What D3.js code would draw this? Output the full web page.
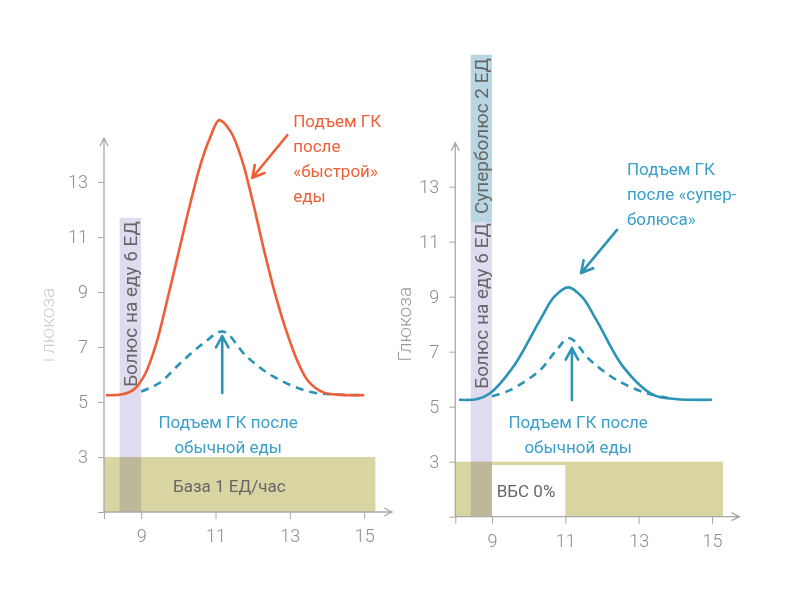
<!DOCTYPE html>
<html><head><meta charset="utf-8">
<script src="https://cdn.jsdelivr.net/npm/d3@7"></script>
<style>
body{margin:0;background:#fff;}
svg text{font-family:Roboto,"Open Sans",sans-serif;}
</style></head><body>
<svg id="c" width="800" height="600"></svg>
<script>
// ---- data ----
const xTicks = [9, 11, 13, 15];
const yTicks = [3, 5, 7, 9, 11, 13];
// left panel: glucose after "fast" food (solid red)
const fastX = [8.05, 8.5, 8.8, 9.1, 9.4, 9.7, 10.0, 10.3, 10.6, 10.85, 11.1, 11.4, 11.7, 12.0, 12.3, 12.6, 12.9, 13.2, 13.5, 13.9, 14.4, 15.0];
const fastY = [5.25, 5.28, 5.45, 6.0, 7.1, 8.7, 10.4, 12.1, 13.65, 14.6, 15.25, 14.85, 13.85, 12.3, 10.55, 8.95, 7.6, 6.5, 5.75, 5.35, 5.26, 5.25];
// left panel: glucose after normal food (dashed)
const normLX = [9.0, 9.5, 10.05, 10.67, 11.2, 11.84, 12.56, 13.54, 14.3, 15.0];
const normLY = [5.38, 5.7, 6.41, 7.13, 7.56, 6.65, 5.92, 5.37, 5.27, 5.25];
// right panel: glucose after super-bolus (solid blue)
const superX = [8.1, 8.6, 8.95, 9.58, 10.31, 10.7, 11.08, 11.45, 11.85, 12.58, 13.4, 14.0, 15.0];
const superY = [5.25, 5.28, 5.49, 6.45, 8.15, 9.0, 9.34, 9.0, 8.15, 6.45, 5.43, 5.28, 5.25];
// right panel: glucose after normal food (dashed)
const normRX = [9.0, 9.49, 10.31, 10.76, 11.11, 11.67, 12.4, 13.22, 13.9];
const normRY = [5.38, 5.6, 6.33, 7.06, 7.49, 6.7, 5.97, 5.49, 5.3];
// bars: [x0, x1, y0, y1] in data units
const baseBar = [8, 15.3, 1, 3];
const bolusBar = [8.42, 9.0, 1, 11.7];
const superBar = [8.42, 9.0, 11.7, 17.8];
const vbsBox = [9.0, 11.0, 1, 2.88];

const svg = d3.select("#c");
const RED = "#ef5f37", BLUE = "#2a93b6", BLUE_T = "#3aa0c9";
const OLIVE = "#d8d5a3", PURPLE = "#d4d1eb", SUPER = "#b9d7e3";
const AX = "#a8a8a8", TICKC = "#8e8e8e", DARK = "#666";

function panel(cfg) {
  const g = svg.append("g");
  const x = d3.scaleLinear().domain([8, 15]).range(cfg.xr);
  const y = d3.scaleLinear().domain([1, 5]).range(cfg.yr);
  const rect = (b, fill) => g.append("rect")
    .attr("x", x(b[0])).attr("width", x(b[1]) - x(b[0]))
    .attr("y", y(b[3])).attr("height", y(b[2]) - y(b[3])).attr("fill", fill);
  rect(baseBar, OLIVE);
  if (cfg.vbs) rect(vbsBox, "#fff");
  rect(bolusBar, PURPLE).style("mix-blend-mode", "multiply").attr("opacity", 0.75);
  if (cfg.superbar) rect(superBar, SUPER);

  // axes
  const xa = g.append("g").attr("transform", `translate(0,${y(1)})`)
    .call(d3.axisBottom(x).tickValues([8].concat(xTicks)).tickSize(7).tickPadding(8).tickFormat(d => d === 8 ? "" : d));
  const ya = g.append("g").attr("transform", `translate(${x(8)},0)`)
    .call(d3.axisLeft(y).tickValues([1].concat(yTicks)).tickSize(6).tickPadding(10).tickFormat(d => d === 1 ? "" : d));
  [xa, ya].forEach(a => {
    a.select(".domain").remove();
    a.selectAll("line").attr("stroke", AX);
    a.selectAll("text").attr("fill", TICKC).style("font-size", "18px").style("font-weight", 300);
  });
  xa.selectAll("text").attr("dy", "0.85em");
  // axis lines with open arrow heads
  const xEnd = x(15.75), yEnd = y(14.6);
  g.append("path").attr("d", `M${x(8)},${y(1)}H${xEnd} M${xEnd-8},${y(1)-4}L${xEnd},${y(1)}L${xEnd-8},${y(1)+4}`)
    .attr("fill", "none").attr("stroke", AX).attr("stroke-width", 1.3);
  g.append("path").attr("d", `M${x(8)},${y(1)}V${yEnd} M${x(8)-4},${yEnd+8}L${x(8)},${yEnd}L${x(8)+4},${yEnd+8}`)
    .attr("fill", "none").attr("stroke", AX).attr("stroke-width", 1.3);

  // vertical bar labels
  const vtext = (xv, yv, txt) => g.append("text")
    .attr("transform", `translate(${x(xv)},${y(yv)}) rotate(-90)`)
    .attr("text-anchor", "middle").attr("dy", "0.36em")
    .attr("fill", DARK).style("font-size", "19px").text(txt);
  vtext((bolusBar[0] + bolusBar[1]) / 2, cfg.bolusMid, "Болюс на еду 6 ЕД");
  if (cfg.superbar) vtext((superBar[0] + superBar[1]) / 2, cfg.superMid, "Суперболюс 2 ЕД");

  // curves
  const line = d3.line().x(d => x(d[0])).y(d => y(d[1])).curve(d3.curveCatmullRom.alpha(0.5));
  g.append("path").datum(d3.zip(cfg.dX, cfg.dY)).attr("d", line)
    .attr("fill", "none").attr("stroke", BLUE).attr("stroke-width", 2.6).attr("stroke-dasharray", "8,6");
  g.append("path").datum(d3.zip(cfg.sX, cfg.sY)).attr("d", line)
    .attr("fill", "none").attr("stroke", cfg.sColor).attr("stroke-width", 2.6);

  // arrows
  const arrow = (a, color) => {
    const x1 = x(a[0]), y1 = y(a[1]), x2 = x(a[2]), y2 = y(a[3]);
    const ang = Math.atan2(y2 - y1, x2 - x1), L = 13, sp = 0.5;
    const p1 = [x2 - L * Math.cos(ang - sp), y2 - L * Math.sin(ang - sp)];
    const p2 = [x2 - L * Math.cos(ang + sp), y2 - L * Math.sin(ang + sp)];
    g.append("path").attr("d", `M${x1},${y1}L${x2},${y2} M${p1}L${x2},${y2}L${p2}`)
      .attr("fill", "none").attr("stroke", color).attr("stroke-width", 2.6)
      .attr("stroke-linecap", "round").attr("stroke-linejoin", "round");
  };
  arrow(cfg.topArrow, cfg.sColor);
  arrow(cfg.lowArrow, BLUE);

  // annotations
  const block = (xv, yv, lines, color, anchor) => {
    const t = g.append("text").attr("x", x(xv)).attr("y", y(yv)).attr("fill", color)
      .attr("text-anchor", anchor).style("font-size", "17px");
    lines.forEach((l, i) => t.append("tspan").attr("x", x(xv)).attr("dy", i ? 25 : 0).text(l));
  };
  block(cfg.topText[0], cfg.topText[1], cfg.topLines, cfg.topColor, "start");
  block(cfg.lowText[0], cfg.lowText[1], ["Подъем ГК после", "обычной еды"], BLUE_T, "middle");
  block(cfg.baseText[0], cfg.baseText[1], [cfg.baseLabel], DARK, "middle");

  // y label
  const holder = g.append("g");
  holder.append("text")
    .attr("transform", `translate(${cfg.ylx},${y(cfg.ylMid)}) rotate(-90)`)
    .attr("text-anchor", "middle").attr("fill", cfg.ylColor).style("font-size", "19px").style("font-weight", 300)
    .text("Глюкоза");
  if (cfg.clip) {
    svg.append("clipPath").attr("id", "clipL").append("rect").attr("x", cfg.clip).attr("y", 0).attr("width", 100).attr("height", 600);
    holder.attr("clip-path", "url(#clipL)");
  }
}

panel({
  xr: [104, 364.2], yr: [512, 402],
  sX: fastX, sY: fastY, dX: normLX, dY: normLY, sColor: RED,
  topArrow: [12.93, 14.7, 11.99, 13.15], lowArrow: [11.18, 5.33, 11.18, 7.4],
  topText: [13.09, 15.0], topLines: ["Подъем ГК", "после", "«быстрой»", "еды"], topColor: RED,
  lowText: [11.34, 4.05], baseText: [11.37, 1.72], baseLabel: "База 1 ЕД/час",
  bolusMid: 8.56, ylx: 54, ylMid: 7.8, ylColor: "#cdcdcd", clip: 44
});
panel({
  xr: [455.3, 712], yr: [516.7, 406.7],
  sX: superX, sY: superY, dX: normRX, dY: normRY, sColor: BLUE,
  topArrow: [12.41, 11.43, 11.43, 9.86], lowArrow: [11.18, 5.24, 11.18, 7.13],
  topText: [12.68, 13.43], topLines: ["Подъем ГК", "после «супер-", "болюса»"], topColor: BLUE_T,
  lowText: [11.35, 4.23], baseText: [9.93, 1.72], baseLabel: "ВБС 0%",
  bolusMid: 8.66, superMid: 14.84, superbar: true, vbs: true, ylx: 411, ylMid: 8.0, ylColor: "#9a9a9a"
});
</script>
</body></html>
